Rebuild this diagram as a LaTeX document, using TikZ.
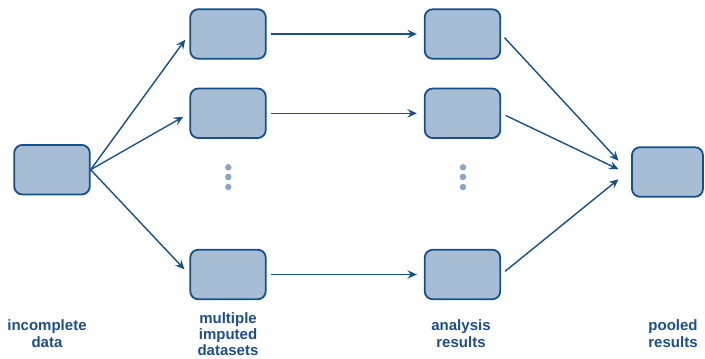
\documentclass[tikz,border=0pt]{standalone}
\usepackage{fontspec}
\setmainfont{Liberation Sans}
\usetikzlibrary{arrows.meta}
\definecolor{edgeblue}{RGB}{22,80,140}
\definecolor{boxfill}{RGB}{167,189,212}
\definecolor{dotblue}{RGB}{138,166,196}
\definecolor{textblue}{RGB}{28,78,138}
\begin{document}
\begin{tikzpicture}[x=1pt,y=-1pt,
 databox/.style={draw=edgeblue, fill=boxfill, line width=1.8pt, rounded corners=8pt, minimum width=75.5pt, minimum height=49.5pt, inner sep=0pt},
 flow/.style={draw=edgeblue, line width=1.4pt, -{Stealth[length=9.5pt,width=8.5pt,inset=3.5pt]}},
 lbl/.style={text=textblue, font=\fontsize{15}{16.8}\selectfont\bfseries, align=center, anchor=north, inner sep=0pt},
 vdot/.style={circle, fill=dotblue, inner sep=0pt, minimum size=6.5pt}]
\path[use as bounding box] (0,0) rectangle (705,359);

\node[databox] (inc) at (52,169.7) {};
\node[databox] (imp1) at (228,34) {};
\node[databox] (imp2) at (228,113.3) {};
\node[databox] (impn) at (228,274.5) {};
\node[databox] (ana1) at (462.5,34) {};
\node[databox] (ana2) at (462.5,113.3) {};
\node[databox] (anan) at (462.5,274.5) {};
\node[databox, minimum width=71pt] (pool) at (667.5,172) {};

\node[vdot] (d1) at (228.3,167.3) {};
\node[vdot] (d2) at (228.3,177) {};
\node[vdot] (d3) at (228.3,187) {};
\node[vdot] (e1) at (463,167.3) {};
\node[vdot] (e2) at (463,177) {};
\node[vdot] (e3) at (463,187) {};

\draw[flow, shorten >=7pt] (inc.east) -- (imp1.west);
\draw[flow, shorten >=7pt] (inc.east) -- (imp2.west);
\draw[flow, shorten >=7pt] (inc.east) -- (impn.west);

\draw[flow, shorten <=4.5pt, shorten >=7pt] (imp1.east) -- (ana1.west);
\draw[flow, shorten <=4.5pt, shorten >=7pt] (imp2.east) -- (ana2.west);
\draw[flow, shorten <=4.5pt, shorten >=7pt] (impn.east) -- (anan.west);

\coordinate (t1) at (618.5,160.7);
\coordinate (t2) at (618.5,169.3);
\coordinate (t3) at (618.5,179.3);
\draw[flow, shorten <=5pt] (ana1.east) -- (t1);
\draw[flow, shorten <=5pt] (ana2.east) -- (t2);
\draw[flow, shorten <=5pt] (anan.east) -- (t3);

\node[lbl] (l1) at (47,319.5) {incomplete\\data};
\node[lbl, font=\fontsize{15}{16.2}\selectfont\bfseries] (l2) at (228,312) {multiple\\imputed\\datasets};
\node[lbl] (l3) at (461,319.5) {analysis\\results};
\node[lbl] (l4) at (673,319.5) {pooled\\results};
\end{tikzpicture}
\end{document}
